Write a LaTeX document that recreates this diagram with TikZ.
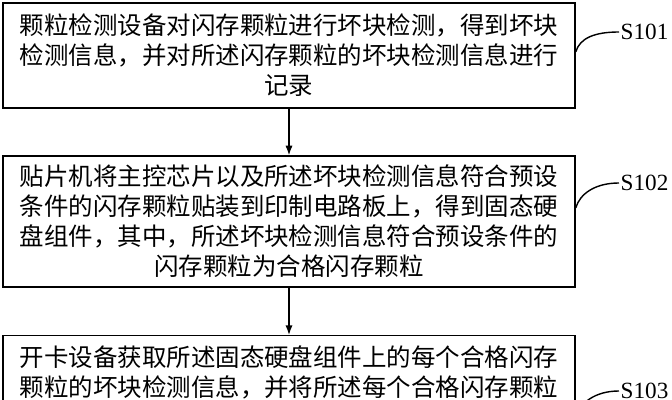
\documentclass[tikz,border=0pt]{standalone}
\usepackage{fontspec}
\usepackage{tikz}
\usetikzlibrary{arrows.meta}
\setmainfont{Liberation Serif}
\newfontfamily\cjk{Noto Sans CJK SC}

\begin{document}
\begin{tikzpicture} [x=0.025cm, y=0.025cm,
  box/.style = {draw,
    line width = 1pt,
    rectangle,
    text width = 13.6cm,
    inner xsep = 0.35cm,
    align = center,
    font = \cjk\fontsize{17.4pt}{21.3pt}\selectfont},
  tag/.style = {anchor = west,
    inner sep = 1pt,
    font = \fontsize{16.5pt}{19pt}\selectfont},
  link/.style = {line width = 1pt, -{Latex[length=2.4mm,width=1.8mm]}},
  hook/.style = {line width = 1pt}]

\useasboundingbox (0,0) rectangle (672,400);
\clip (0,0) rectangle (672,400);

\node (S1) at (289,344.5) [box, minimum height = 2.625cm]
  {颗粒检测设备对闪存颗粒进行坏块检测，得到坏块\\
   检测信息，并对所述闪存颗粒的坏块检测信息进行\\
   记录};
\node (S2) at (289,178.5) [box, minimum height = 3.275cm]
  {贴片机将主控芯片以及所述坏块检测信息符合预设\\
   条件的闪存颗粒贴装到印制电路板上，得到固态硬\\
   盘组件，其中，所述坏块检测信息符合预设条件的\\
   闪存颗粒为合格闪存颗粒};
\node (S3) at (289,65) [box, anchor = north, inner ysep = 0.25cm]
  {开卡设备获取所述固态硬盘组件上的每个合格闪存\\
   颗粒的坏块检测信息，并将所述每个合格闪存颗粒};

\node (T1) at (619,368) [tag] {S101};
\node (T2) at (619,217) [tag] {S102};
\node (T3) at (619,9) [tag] {S103};

\draw [link] (S1) -- (S2);
\draw [link] (S2) -- (S3);

\draw [hook] ([yshift=0.09cm]S1.east) .. controls +(0.1cm,0.35cm) and +(-0.6cm,0) .. (T1.west);
\draw [hook] ([yshift=0.34cm]S2.east) .. controls +(0.1cm,0.35cm) and +(-0.6cm,0) .. (T2.west);
\draw [hook] ([yshift=-2.05cm]S3.north east) .. controls +(0.1cm,0.35cm) and +(-0.6cm,0) .. (T3.west);

\end{tikzpicture}
\end{document}
